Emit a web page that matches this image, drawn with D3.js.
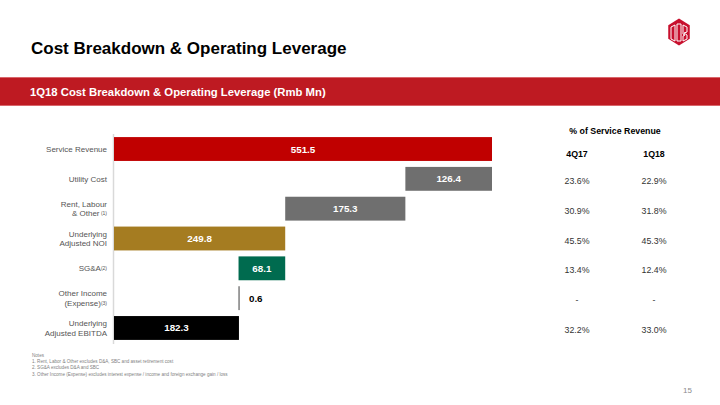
<!DOCTYPE html>
<html>
<head>
<meta charset="utf-8">
<script src="https://cdn.jsdelivr.net/npm/d3@7"></script>
<style>
  html, body { margin: 0; padding: 0; background: #fff; }
  svg { display: block; font-family: Arial, "Liberation Sans", sans-serif; }
</style>
</head>
<body>
<svg id="chart" width="720" height="405"></svg>
<script>
// ---- data ----
const categories = ["Service Revenue", "Utility Cost", "Rent, Labour & Other", "Underlying Adjusted NOI", "SG&A", "Other Income (Expense)", "Underlying Adjusted EBITDA"];
const categoryLines = [["Service Revenue"], ["Utility Cost"], ["Rent, Labour", "& Other"], ["Underlying", "Adjusted NOI"], ["SG&A"], ["Other Income", "(Expense)"], ["Underlying", "Adjusted EBITDA"]];
const footnoteRefs = ["", "", " (1)", "", "(2)", "(3)", ""];
const values = [551.5, -126.4, -175.3, 249.8, -68.1, 0.6, 182.3];
const isTotal = [true, false, false, true, false, false, true];
const barColors = ["#C00000", "#6F6F6F", "#6F6F6F", "#A57C21", "#006B4F", "#404040", "#000000"];
const pctHeaders = ["4Q17", "1Q18"];
const pct4Q17 = [null, "23.6%", "30.9%", "45.5%", "13.4%", "-", "32.2%"];
const pct1Q18 = [null, "22.9%", "31.8%", "45.3%", "12.4%", "-", "33.0%"];
const notes = [
  "Notes",
  "1. Rent, Labor & Other excludes D&A, SBC and asset retirement cost",
  "2. SG&A excludes D&A and SBC",
  "3. Other Income (Expense) excludes interest expense / income and foreign exchange gain / loss"
];
const pageTitle = "Cost Breakdown & Operating Leverage";
const bandTitle = "1Q18 Cost Breakdown & Operating Leverage (Rmb Mn)";
const tableTitle = "% of Service Revenue";
const pageNumber = "15";

// ---- waterfall computation ----
let running = 0;
const bars = values.map((v, i) => {
  let start, end;
  if (isTotal[i]) { start = 0; end = v; running = v; }
  else { start = running; end = running + v; running = end; }
  return { i, cat: categories[i], v, lo: Math.min(start, end), hi: Math.max(start, end) };
});

const svg = d3.select("#chart");

// ---- header ----
svg.append("text").attr("x", 31).attr("y", 54)
  .attr("font-size", 17).attr("font-weight", "bold").attr("fill", "#000")
  .text(pageTitle);

// logo
const lg = svg.append("g").attr("transform", "translate(679,32)");
const R = 13.5;
const hex = d3.range(6).map(k => {
  const a = Math.PI / 3 * k - Math.PI / 2;
  return [R * Math.cos(a) * 0.92, R * Math.sin(a)];
});
lg.append("path").attr("d", d3.line()(hex) + "Z").attr("fill", "#C8102E");
lg.append("path")
  .attr("d", "M-8,-5 L-8,7 L-4,9 L-4,-7 Z M-2,-8 L2,-8 L2,9 L-2,9 Z M4,-7 L8,-5 L8,0 L5,1 L8,3 L8,7 L4,9 L4,4 L6,3 L4,2 Z")
  .attr("fill", "none").attr("stroke", "#fff").attr("stroke-width", 1);

// red band
svg.append("rect").attr("x", 0).attr("y", 77).attr("width", 720).attr("height", 29).attr("fill", "#BE1A22");
svg.append("rect").attr("x", 0).attr("y", 77).attr("width", 720).attr("height", 1).attr("fill", "#D9666B");
svg.append("rect").attr("x", 0).attr("y", 105).attr("width", 720).attr("height", 1).attr("fill", "#D9666B");
svg.append("text").attr("x", 30).attr("y", 96)
  .attr("font-size", 11.3).attr("font-weight", "bold").attr("fill", "#fff")
  .text(bandTitle);

// ---- scales ----
const x = d3.scaleLinear().domain([0, 551.5]).range([114, 492]);
const y = d3.scaleBand().domain(categories).range([134.1, 342.9]).paddingInner(0.2).paddingOuter(0.1);
const bw = y.bandwidth();

// axis line
svg.append("line").attr("x1", 113.5).attr("x2", 113.5).attr("y1", 134).attr("y2", 344)
  .attr("stroke", "#D9D9D9").attr("stroke-width", 1.5);

// bars
const g = svg.append("g");
g.selectAll("rect.bar").data(bars).enter().append("rect")
  .attr("class", "bar")
  .attr("x", d => x(d.lo))
  .attr("y", d => y(d.cat))
  .attr("width", d => Math.max(1, x(d.hi) - x(d.lo)))
  .attr("height", bw)
  .attr("fill", d => barColors[d.i]);

// value labels
g.selectAll("text.val").data(bars).enter().append("text")
  .attr("class", "val")
  .attr("x", d => (x(d.hi) - x(d.lo) > 20) ? (x(d.lo) + x(d.hi)) / 2 : x(d.hi) + 10)
  .attr("y", d => y(d.cat) + bw / 2 + 3.5)
  .attr("text-anchor", d => (x(d.hi) - x(d.lo) > 20) ? "middle" : "start")
  .attr("font-size", 9.8).attr("font-weight", "bold")
  .attr("fill", d => (x(d.hi) - x(d.lo) > 20) ? "#fff" : "#000")
  .text(d => d3.format(".1f")(Math.abs(d.v)));

// category labels
categoryLines.forEach((lines, i) => {
  const cy = y(categories[i]) + bw / 2;
  const lh = 9.5;
  const top = cy - (lines.length - 1) * lh / 2;
  lines.forEach((ln, j) => {
    const t = svg.append("text")
      .attr("x", 107).attr("y", top + j * lh + 3)
      .attr("text-anchor", "end")
      .attr("font-size", 8).attr("fill", "#555");
    t.append("tspan").text(ln);
    if (j === lines.length - 1 && footnoteRefs[i]) {
      t.append("tspan").attr("font-size", 5).attr("dy", -1).text(footnoteRefs[i]);
    }
  });
});

// ---- table ----
const colX = [577, 654];
svg.append("text").attr("x", 615).attr("y", 134).attr("text-anchor", "middle")
  .attr("font-size", 8.8).attr("font-weight", "bold").attr("fill", "#000").text(tableTitle);
pctHeaders.forEach((h, k) => {
  svg.append("text").attr("x", colX[k]).attr("y", 157).attr("text-anchor", "middle")
    .attr("font-size", 8.8).attr("font-weight", "bold").attr("fill", "#000").text(h);
});
[pct4Q17, pct1Q18].forEach((col, k) => {
  col.forEach((v, i) => {
    if (v === null) return;
    svg.append("text").attr("x", colX[k]).attr("y", y(categories[i]) + bw / 2 + 5)
      .attr("text-anchor", "middle").attr("font-size", 8.8).attr("fill", "#333").text(v);
  });
});

// ---- notes ----
notes.forEach((n, i) => {
  svg.append("text").attr("x", 32).attr("y", 357 + i * 6.2)
    .attr("font-size", 4.6).attr("fill", "#7F7F7F").text(n);
});

// page number
svg.append("text").attr("x", 692).attr("y", 393).attr("text-anchor", "end")
  .attr("font-size", 8).attr("fill", "#8C8C8C").text(pageNumber);
</script>
</body>
</html>
